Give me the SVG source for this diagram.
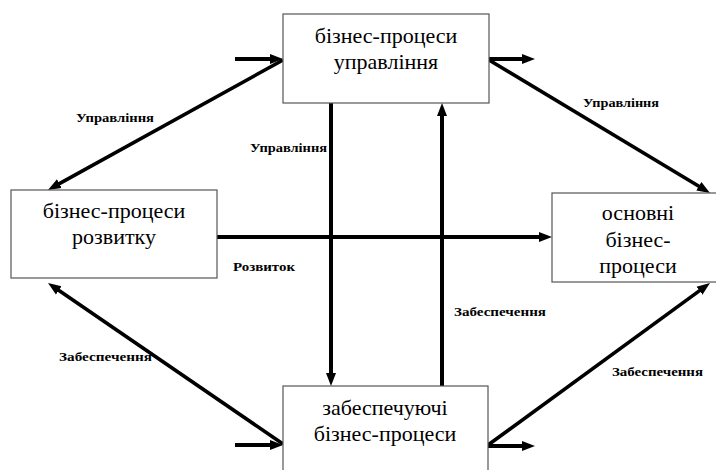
<svg xmlns="http://www.w3.org/2000/svg" width="716" height="470" viewBox="0 0 716 470">
<style>
.box{fill:#fff;stroke:#555;stroke-width:1.2}
.t{font-family:'Liberation Serif','Times New Roman',serif;font-size:22px;fill:#000;text-anchor:middle}
.lb{font-family:'Liberation Serif','Times New Roman',serif;font-size:12px;font-weight:bold;fill:#000}
.c{stroke:#000;stroke-width:4;fill:none;marker-end:url(#ah)}
.d{stroke:#000;stroke-width:3.6;fill:none;marker-end:url(#ah)}
</style>
<defs>
<marker id="ah" markerUnits="userSpaceOnUse" markerWidth="14" markerHeight="12" refX="1" refY="6" orient="auto">
<path d="M0,1 L13,6 L0,11 z" fill="#000"/>
</marker>
</defs>
<rect width="716" height="470" fill="#fff"/>
<g id="connectors">
<line class="c" x1="235" y1="59" x2="271" y2="59"/>
<line class="d" x1="283" y1="60" x2="58.5" y2="184.2"/>
<line class="c" x1="331" y1="103" x2="331" y2="374"/>
<line class="c" x1="217" y1="237" x2="540" y2="237"/>
<line class="c" x1="442" y1="386" x2="442" y2="115"/>
<line class="c" x1="489" y1="59" x2="523" y2="59"/>
<line class="d" x1="489" y1="60" x2="699.7" y2="186.8"/>
<line class="c" x1="235" y1="445" x2="271" y2="445"/>
<line class="d" x1="283" y1="444" x2="57.9" y2="289.8"/>
<line class="c" x1="488" y1="446" x2="523" y2="446"/>
<line class="d" x1="488" y1="445" x2="700.3" y2="290.1"/>
</g>
<g id="node-top">
<rect class="box" x="283" y="14" width="206" height="89"/>
<text class="t" x="386" y="43">бізнес-процеси</text>
<text class="t" x="386" y="69">управління</text>
</g>
<g id="node-left">
<rect class="box" x="11" y="190" width="206" height="88"/>
<text class="t" x="114" y="218">бізнес-процеси</text>
<text class="t" x="114" y="244">розвитку</text>
</g>
<g id="node-right">
<rect class="box" x="552" y="193" width="175" height="89"/>
<text class="t" x="638" y="220">основні</text>
<text class="t" x="638" y="247">бізнес-</text>
<text class="t" x="638" y="273">процеси</text>
</g>
<g id="node-bottom">
<rect class="box" x="283" y="386" width="205" height="95"/>
<text class="t" x="385" y="415">забеспечуючі</text>
<text class="t" x="385" y="441">бізнес-процеси</text>
</g>
<g id="labels">
<text class="lb" x="76" y="122" textLength="78" lengthAdjust="spacingAndGlyphs">Управління</text>
<text class="lb" x="250" y="152" textLength="77" lengthAdjust="spacingAndGlyphs">Управління</text>
<text class="lb" x="583" y="107" textLength="76" lengthAdjust="spacingAndGlyphs">Управління</text>
<text class="lb" x="233" y="271" textLength="62" lengthAdjust="spacingAndGlyphs">Розвиток</text>
<text class="lb" x="59" y="361" textLength="93" lengthAdjust="spacingAndGlyphs">Забеспечення</text>
<text class="lb" x="454" y="316" textLength="92" lengthAdjust="spacingAndGlyphs">Забеспечення</text>
<text class="lb" x="612" y="376" textLength="91" lengthAdjust="spacingAndGlyphs">Забеспечення</text>
</g>
</svg>
